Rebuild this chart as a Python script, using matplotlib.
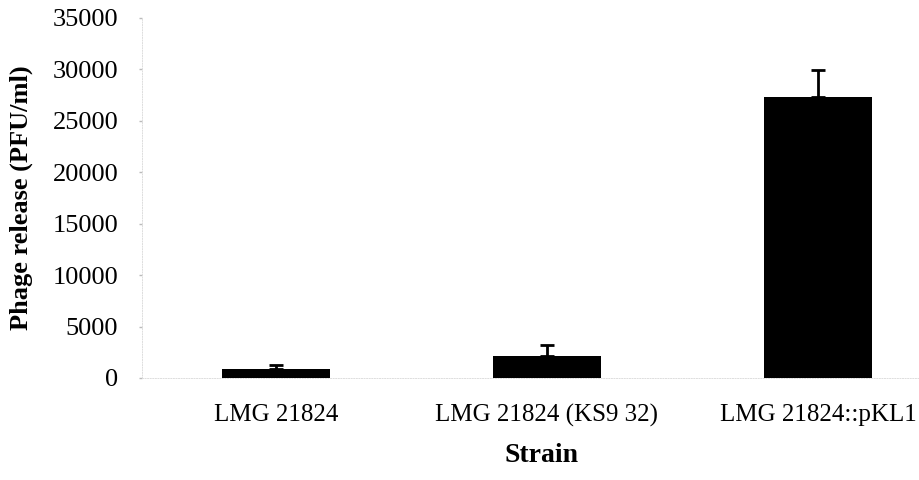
import matplotlib
matplotlib.use("Agg")
import matplotlib.pyplot as plt
import numpy as np

# Dados
strains = ["LMG 21824", "LMG 21824 (KS9 32)", "LMG 21824::pKL1"]
phage_release = [850, 2150, 27300]
phage_err = [400, 1050, 2600]
y_ticks = [0, 5000, 10000, 15000, 20000, 25000, 30000, 35000]

plt.rcParams["font.family"] = ["Liberation Serif", "DejaVu Serif"]

fig = plt.figure(figsize=(9.2, 4.8), dpi=100)
ax = fig.add_axes([0.1543, 0.2125, 0.8457, 0.75])

x = np.arange(len(strains))
ax.bar(x, phage_release, 0.4, color="black")
ax.errorbar(x, phage_release, yerr=[np.zeros(len(x)), phage_err],
            fmt="none", ecolor="black", elinewidth=2, capsize=5, capthick=2)

ax.set_xlim(-0.494, 2.376)
ax.set_ylim(0, 35000)
ax.set_yticks(y_ticks)
ax.set_yticklabels([str(v) for v in y_ticks], fontsize=19)
ax.set_xticks(x)
ax.set_xticklabels(strains, fontsize=18)
ax.tick_params(axis="y", length=2, width=1, color="#bbbbbb", pad=15)
ax.tick_params(axis="x", length=0, pad=19)

# Eixos apagados como no original digitalizado
for side in ["top", "right"]:
    ax.spines[side].set_visible(False)
for side in ["left", "bottom"]:
    ax.spines[side].set_color("#dddddd")
    ax.spines[side].set_linestyle(":")
    ax.spines[side].set_linewidth(0.7)

ax.set_ylabel("Phage release (PFU/ml)", fontsize=19, fontweight="bold")
ax.yaxis.set_label_coords(-0.14, 0.5)
ax.set_xlabel("Strain", fontsize=20, fontweight="bold")
ax.xaxis.set_label_coords(0.513, -0.18)

fig.savefig("out.png", dpi=100)
